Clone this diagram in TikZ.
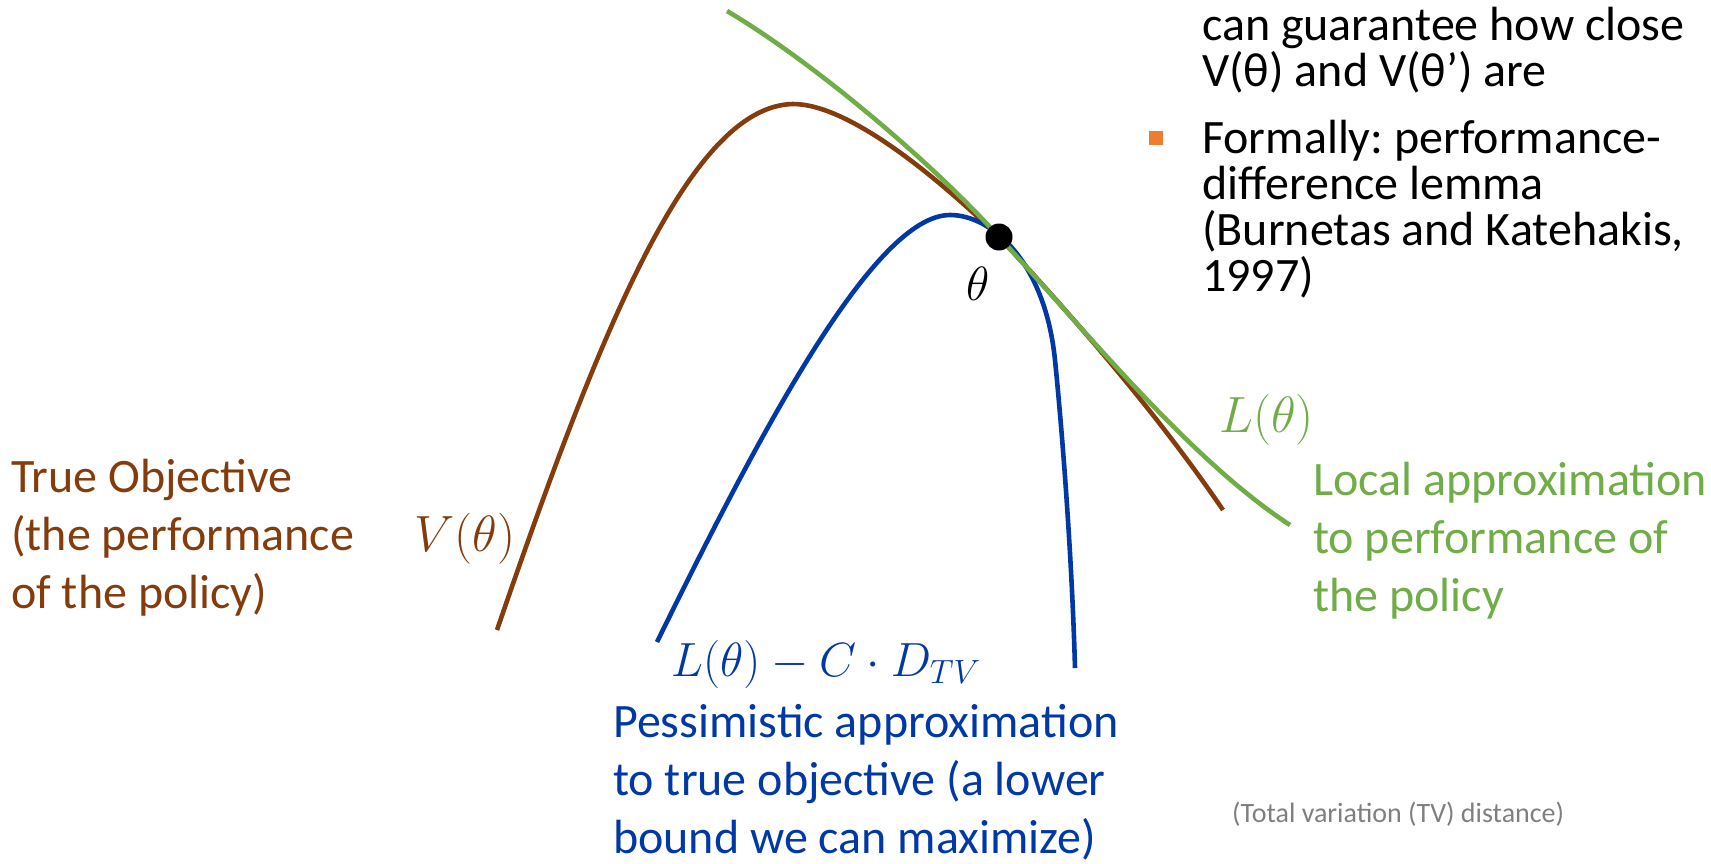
\RequirePackage{fix-cm}
\documentclass[tikz,border=0pt]{standalone}
\usepackage{fontspec}
\setmainfont{Carlito}
\usetikzlibrary{positioning}
\frenchspacing
\definecolor{vbrown}{HTML}{843C0C}
\definecolor{lgreen}{HTML}{70AD47}
\definecolor{pblue}{HTML}{0039A6}
\definecolor{bulletorange}{HTML}{ED7D31}
\definecolor{notegray}{HTML}{7F7F7F}
\tikzset{
  curve/.style={line width=4.6pt},
  txt/.style={anchor=base west, inner sep=0pt, align=left, font=\fontsize{48}{58}\selectfont},
  bullettxt/.style={txt, font=\fontsize{48}{46}\selectfont},
  mathlbl/.style={anchor=base west, inner sep=0pt, font=\fontsize{51}{58}\selectfont},
}

\begin{document}
\begin{tikzpicture}[x=1pt, y=-1pt]
\useasboundingbox (0,0) rectangle (1711,863);
% the three curves
\draw[curve, vbrown] (497,630) .. controls (600,330) and (690,106) .. (793,104)
  .. controls (850,104) and (940,180) .. (999,237)
  .. controls (1090,335) and (1165,425) .. (1223,510);
\draw[curve, pblue] (657,642) .. controls (762,428) and (875,215) .. (950,215)
  .. controls (992,215) and (1045,262) .. (1055,360)
  .. controls (1063,440) and (1072,560) .. (1075,668);
\draw[curve, lgreen] (727,11) .. controls (810,60) and (930,160) .. (999,237)
  .. controls (1085,330) and (1190,460) .. (1290,525);
\node[circle, fill=black, minimum size=27pt, inner sep=0pt] (theta0) at (999,237) {};
\node[anchor=base west, inner sep=0pt, font=\fontsize{48}{58}\selectfont] (thetalbl) at (966,300) {$\theta$};
% labels of the curves
\node[mathlbl, vbrown] (vlbl) at (414,551) {$V(\theta)$};
\node[txt, vbrown] (trueobj) at (11,608) {True Objective\\(the performance\\of the policy)};
\node[mathlbl, lgreen] (llbl) at (1219,432) {$L(\theta)$};
\node[txt, lgreen] (localapprox) at (1313,611) {Local approximation\\to performance of\\the policy};
\node[mathlbl, pblue, font=\fontsize{48}{58}\selectfont] (lowerlbl) at (671,676) {$L(\theta)-C\cdot D_{TV}$};
\node[txt, pblue] (pessim) at (613,853) {Pessimistic approximation\\to true objective (a lower\\bound we can maximize)};
% text on the right
\node[bullettxt] (guarantee) at (1202,86) {can guarantee how close\\V(θ) and V(θ’) are};
\node[bullettxt] (formally) at (1202,291) {Formally: performance-\\difference lemma\\(Burnetas and Katehakis,\\1997)};
\node[fill=bulletorange, minimum size=14pt, inner sep=0pt] (bullet) at (1156,138) {};
\node[anchor=base west, inner sep=0pt, notegray, font=\fontsize{28}{34}\selectfont] (tvnote) at (1232,822) {(Total variation (TV) distance)};
\end{tikzpicture}
\end{document}
